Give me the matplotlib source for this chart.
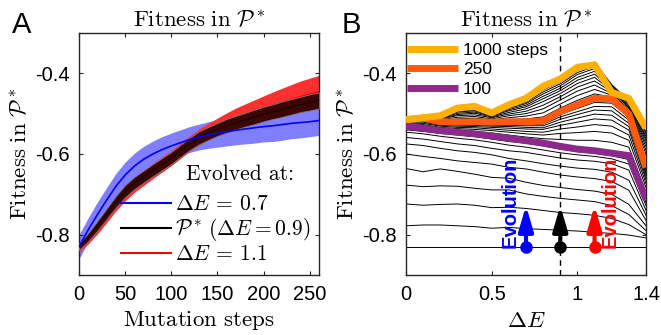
import numpy as np
import matplotlib
matplotlib.use("Agg")
from matplotlib import pyplot as plt

plt.rcParams['font.family'] = ['Liberation Sans', 'DejaVu Sans']
plt.rcParams['mathtext.fontset'] = 'cm'
plt.rcParams['axes.unicode_minus'] = False

# ---------------- panel A data: fitness in P* vs mutation steps ----------------
steps = [0, 10, 20, 30, 40, 50, 60, 70, 80, 90, 100, 110, 120, 130, 140, 150, 160,
         170, 180, 190, 200, 210, 220, 230, 240, 250, 260]
blue_mean = [-0.830, -0.788, -0.750, -0.714, -0.680, -0.652, -0.630, -0.613, -0.600, -0.589,
             -0.580, -0.572, -0.564, -0.558, -0.553, -0.549, -0.545, -0.541, -0.538, -0.535,
             -0.532, -0.530, -0.527, -0.524, -0.522, -0.520, -0.517]
blue_err = [0.030, 0.030, 0.031, 0.031, 0.032, 0.032, 0.032, 0.032, 0.032, 0.032, 0.032, 0.032,
            0.032, 0.032, 0.033, 0.034, 0.035, 0.036, 0.037, 0.038, 0.038, 0.039, 0.039, 0.038,
            0.038, 0.037, 0.037]
black_mean = [-0.830, -0.806, -0.778, -0.748, -0.718, -0.692, -0.672, -0.656, -0.640, -0.625,
              -0.610, -0.592, -0.575, -0.560, -0.549, -0.539, -0.530, -0.522, -0.515, -0.508,
              -0.501, -0.495, -0.489, -0.483, -0.477, -0.472, -0.467]
black_err = [0.008, 0.010, 0.012, 0.013, 0.014, 0.015, 0.015, 0.015, 0.015, 0.015, 0.015, 0.015,
             0.015, 0.016, 0.016, 0.016, 0.017, 0.017, 0.017, 0.018, 0.018, 0.018, 0.019, 0.019,
             0.019, 0.020, 0.020]
red_mean = [-0.833, -0.810, -0.783, -0.753, -0.723, -0.697, -0.676, -0.659, -0.642, -0.626,
            -0.610, -0.592, -0.574, -0.558, -0.545, -0.533, -0.522, -0.512, -0.503, -0.495,
            -0.487, -0.479, -0.472, -0.465, -0.458, -0.452, -0.446]
red_err = [0.010, 0.013, 0.015, 0.017, 0.018, 0.019, 0.019, 0.019, 0.019, 0.019, 0.019, 0.019,
           0.019, 0.020, 0.021, 0.022, 0.024, 0.026, 0.027, 0.029, 0.031, 0.033, 0.035, 0.037,
           0.039, 0.040, 0.041]
legend_a = [r'$\Delta E\,=\,0.7$', r'$\mathcal{P}^*\,(\Delta E=0.9)$', r'$\Delta E\,=\,1.1$']

# ---------------- panel B data: fitness in P* vs Delta E, one curve per step count ----------------
dE = [0.0, 0.1, 0.2, 0.3, 0.4, 0.5, 0.6, 0.7, 0.8, 0.9, 1.0, 1.1, 1.2, 1.3, 1.4]
fit_0 = [-0.830, -0.830, -0.830, -0.830, -0.830, -0.830, -0.830, -0.830, -0.830, -0.830,
         -0.830, -0.830, -0.830, -0.830, -0.830]
# steps 10 ... 90
fit_early = [
    [-0.778, -0.776, -0.776, -0.778, -0.780, -0.784, -0.782, -0.785, -0.787, -0.789, -0.791, -0.794, -0.797, -0.801, -0.808],
    [-0.724, -0.727, -0.725, -0.724, -0.727, -0.733, -0.732, -0.735, -0.740, -0.745, -0.748, -0.752, -0.760, -0.775, -0.800],
    [-0.677, -0.681, -0.679, -0.680, -0.685, -0.689, -0.689, -0.699, -0.705, -0.710, -0.714, -0.718, -0.728, -0.750, -0.790],
    [-0.636, -0.644, -0.637, -0.643, -0.650, -0.658, -0.660, -0.670, -0.678, -0.683, -0.688, -0.692, -0.700, -0.725, -0.778],
    [-0.600, -0.606, -0.611, -0.617, -0.621, -0.625, -0.633, -0.637, -0.645, -0.652, -0.657, -0.661, -0.668, -0.690, -0.765],
    [-0.575, -0.579, -0.586, -0.592, -0.596, -0.602, -0.611, -0.617, -0.624, -0.630, -0.635, -0.638, -0.645, -0.665, -0.752],
    [-0.559, -0.563, -0.569, -0.575, -0.579, -0.586, -0.592, -0.596, -0.603, -0.610, -0.615, -0.618, -0.624, -0.640, -0.740],
    [-0.546, -0.550, -0.556, -0.561, -0.565, -0.571, -0.578, -0.583, -0.590, -0.597, -0.602, -0.606, -0.612, -0.625, -0.728],
    [-0.540, -0.544, -0.549, -0.553, -0.557, -0.563, -0.569, -0.573, -0.580, -0.588, -0.594, -0.598, -0.604, -0.614, -0.720],
]
fit_100 = [-0.531, -0.536, -0.542, -0.546, -0.550, -0.555, -0.561, -0.567, -0.573, -0.581,
           -0.588, -0.592, -0.598, -0.604, -0.712]
# steps between 100 and 250
fit_mid = [
    [-0.528, -0.531, -0.538, -0.541, -0.544, -0.548, -0.553, -0.558, -0.562, -0.564, -0.566, -0.566, -0.571, -0.583, -0.696],
    [-0.525, -0.527, -0.534, -0.537, -0.539, -0.542, -0.546, -0.550, -0.553, -0.549, -0.547, -0.544, -0.548, -0.566, -0.683],
    [-0.523, -0.524, -0.531, -0.534, -0.535, -0.538, -0.541, -0.544, -0.546, -0.538, -0.533, -0.527, -0.531, -0.553, -0.673],
    [-0.521, -0.521, -0.529, -0.531, -0.532, -0.534, -0.536, -0.538, -0.539, -0.529, -0.521, -0.513, -0.516, -0.541, -0.664],
    [-0.520, -0.519, -0.527, -0.529, -0.529, -0.531, -0.532, -0.534, -0.535, -0.521, -0.511, -0.501, -0.504, -0.532, -0.657],
    [-0.519, -0.517, -0.525, -0.527, -0.527, -0.529, -0.529, -0.530, -0.530, -0.514, -0.502, -0.491, -0.493, -0.524, -0.650],
    [-0.517, -0.515, -0.523, -0.525, -0.525, -0.526, -0.526, -0.527, -0.526, -0.508, -0.495, -0.482, -0.483, -0.516, -0.645],
    [-0.516, -0.513, -0.522, -0.523, -0.522, -0.524, -0.523, -0.524, -0.522, -0.502, -0.487, -0.472, -0.474, -0.509, -0.639],
]
fit_250 = [-0.515, -0.511, -0.520, -0.521, -0.520, -0.521, -0.520, -0.520, -0.518, -0.495,
           -0.478, -0.462, -0.463, -0.501, -0.633]
# steps between 250 and 1000
fit_late = [
    [-0.515, -0.511, -0.518, -0.517, -0.516, -0.518, -0.515, -0.513, -0.508, -0.486, -0.467, -0.451, -0.459, -0.497, -0.622],
    [-0.515, -0.511, -0.517, -0.513, -0.511, -0.516, -0.510, -0.506, -0.498, -0.476, -0.455, -0.440, -0.454, -0.493, -0.611],
    [-0.515, -0.511, -0.515, -0.509, -0.507, -0.513, -0.505, -0.500, -0.488, -0.466, -0.444, -0.429, -0.450, -0.489, -0.600],
    [-0.515, -0.511, -0.513, -0.505, -0.503, -0.510, -0.501, -0.494, -0.479, -0.458, -0.434, -0.419, -0.446, -0.485, -0.591],
    [-0.515, -0.510, -0.512, -0.502, -0.499, -0.508, -0.497, -0.488, -0.470, -0.450, -0.425, -0.410, -0.443, -0.482, -0.582],
    [-0.515, -0.510, -0.511, -0.499, -0.496, -0.506, -0.493, -0.483, -0.463, -0.443, -0.417, -0.402, -0.440, -0.479, -0.574],
    [-0.515, -0.510, -0.510, -0.496, -0.493, -0.505, -0.490, -0.479, -0.457, -0.437, -0.410, -0.395, -0.437, -0.476, -0.567],
    [-0.515, -0.510, -0.509, -0.494, -0.491, -0.503, -0.487, -0.475, -0.451, -0.431, -0.403, -0.388, -0.434, -0.474, -0.561],
    [-0.515, -0.510, -0.508, -0.492, -0.488, -0.502, -0.485, -0.472, -0.446, -0.426, -0.398, -0.383, -0.432, -0.472, -0.556],
    [-0.515, -0.510, -0.507, -0.490, -0.486, -0.500, -0.482, -0.468, -0.441, -0.422, -0.393, -0.377, -0.430, -0.470, -0.550],
    [-0.515, -0.510, -0.506, -0.488, -0.484, -0.499, -0.480, -0.465, -0.436, -0.417, -0.387, -0.372, -0.428, -0.468, -0.545],
]
fit_1000 = [-0.515, -0.510, -0.505, -0.486, -0.482, -0.498, -0.478, -0.462, -0.432, -0.414,
            -0.385, -0.379, -0.447, -0.462, -0.536]
legend_b = ['1000 steps', '250', '100']

# evolution arrows
evolved_dE = [0.7, 0.9, 1.1]
evolved_colors = ['#0000ff', 'black', '#ff0000']
arrow_start = -0.83
arrow_end = -0.728

MATH_FS = 16.5
TICK_FS = 14.5

fig = plt.figure(figsize=(6.61, 3.35), dpi=100)
ax_a = fig.add_axes([79 / 661, 60 / 335, 240 / 661, 242 / 335])
ax_b = fig.add_axes([406 / 661, 60 / 335, 240 / 661, 242 / 335])

# ---- panel A ----
s = np.array(steps)
bm, be = np.array(blue_mean), np.array(blue_err)
km, ke = np.array(black_mean), np.array(black_err)
rm, re = np.array(red_mean), np.array(red_err)
ax_a.fill_between(s, bm - be, bm + be, color='#7f7fff', lw=0, zorder=1)
ax_a.fill_between(s, rm - re, rm + re, color='#ff3030', lw=0, zorder=2)
l_red, = ax_a.plot(s, rm, color='#ff0000', lw=1.2, zorder=2.5)
ax_a.fill_between(s, km - ke, km + ke, color='#3a0505', edgecolor='#7a7a7a', lw=0.6, zorder=3)
l_black, = ax_a.plot(s, km, color='#200000', lw=1.0, zorder=3.5)
l_blue, = ax_a.plot(s, bm, color='#0000ff', lw=1.2, zorder=5)

leg_a = ax_a.legend([l_blue, l_black, l_red], legend_a, loc='lower left',
                    bbox_to_anchor=(0.175, 0.04), frameon=False, fontsize=15.5,
                    handlelength=2.3, handletextpad=0.2, labelspacing=0.05,
                    borderpad=0, borderaxespad=0)
for h in leg_a.get_lines():
    h.set_linewidth(1.5)
leg_a.get_lines()[1].set_color('black')
ax_a.text(0.67, 0.415, 'Evolved at:', transform=ax_a.transAxes, family='cmr10',
          ha='center', va='center', fontsize=15.5)

ax_a.set_xlim(0, 260)
ax_a.set_xticks([0, 50, 100, 150, 200, 250])
ax_a.set_xlabel(r'$\mathrm{Mutation\ steps}$', fontsize=MATH_FS, labelpad=4)
ax_a.set_title(r'$\mathrm{Fitness\ in\ }\mathcal{P}^*$', fontsize=MATH_FS, pad=4)

# ---- panel B ----
for curve in fit_early + fit_mid + fit_late:
    ax_b.plot(dE, curve, color='black', lw=0.7, zorder=2)
ax_b.plot(dE, fit_0, color='black', lw=0.7, zorder=2)
ax_b.axvline(0.9, color='black', ls='--', lw=1.0, dashes=(4, 3), zorder=1.5)
l100, = ax_b.plot(dE, fit_100, color='#8c2a8c', lw=5, zorder=3, solid_capstyle='butt')
l250, = ax_b.plot(dE, fit_250, color='#ff5a0f', lw=5, zorder=4, solid_capstyle='butt')
l1000, = ax_b.plot(dE, fit_1000, color='#ffb000', lw=5, zorder=5, solid_capstyle='butt')
ax_b.legend([l1000, l250, l100], legend_b, loc='upper left', bbox_to_anchor=(0.005, 0.96),
            frameon=False, fontsize=12.5, handlelength=2.9, handletextpad=0.3,
            labelspacing=0.25, borderpad=0, borderaxespad=0)

for xv, c in zip(evolved_dE, evolved_colors):
    ax_b.annotate('', xy=(xv, arrow_end), xytext=(xv, arrow_start),
                  arrowprops=dict(arrowstyle='-|>,head_length=0.75,head_width=0.22',
                                  color=c, lw=3, mutation_scale=20, shrinkA=0, shrinkB=0),
                  zorder=6)
    ax_b.plot(xv, arrow_start, 'o', color=c, ms=8, zorder=7)
ax_b.text(evolved_dE[0] - 0.093, arrow_start - 0.002, 'Evolution', rotation=90, color='#0000ff',
          fontsize=14.5, fontweight='bold', ha='center', va='bottom', zorder=7)
ax_b.text(evolved_dE[2] + 0.09, arrow_start - 0.002, 'Evolution', rotation=90, color='#ff0000',
          fontsize=14.5, fontweight='bold', ha='center', va='bottom', zorder=7)

ax_b.set_xlim(0, 1.4)
ax_b.set_xticks([0, 0.5, 1, 1.4])
ax_b.set_xticklabels(['0', '0.5', '1', '1.4'])
ax_b.set_xlabel(r'$\Delta E$', fontsize=MATH_FS, labelpad=4)
ax_b.set_title(r'$\mathrm{Fitness\ in\ }\mathcal{P}^*$', fontsize=MATH_FS, pad=4)

for ax in (ax_a, ax_b):
    ax.set_ylim(-0.9, -0.3)
    ax.set_yticks([-0.8, -0.6, -0.4])
    ax.set_yticklabels(['-0.8', '-0.6', '-0.4'])
    ax.set_ylabel(r'$\mathrm{Fitness\ in\ }\mathcal{P}^*$', fontsize=MATH_FS, labelpad=2)
    ax.tick_params(direction='in', length=3, width=0.8, top=True, right=True,
                   labelsize=TICK_FS, pad=7, color='#262626')
    for sp in ax.spines.values():
        sp.set_linewidth(1.0)
        sp.set_color('#262626')

fig.text(12 / 661, 1 - 33 / 335, 'A', fontsize=21, ha='left', va='baseline')
fig.text(342 / 661, 1 - 33 / 335, 'B', fontsize=21, ha='left', va='baseline')

fig.savefig('out.png', dpi=100)
